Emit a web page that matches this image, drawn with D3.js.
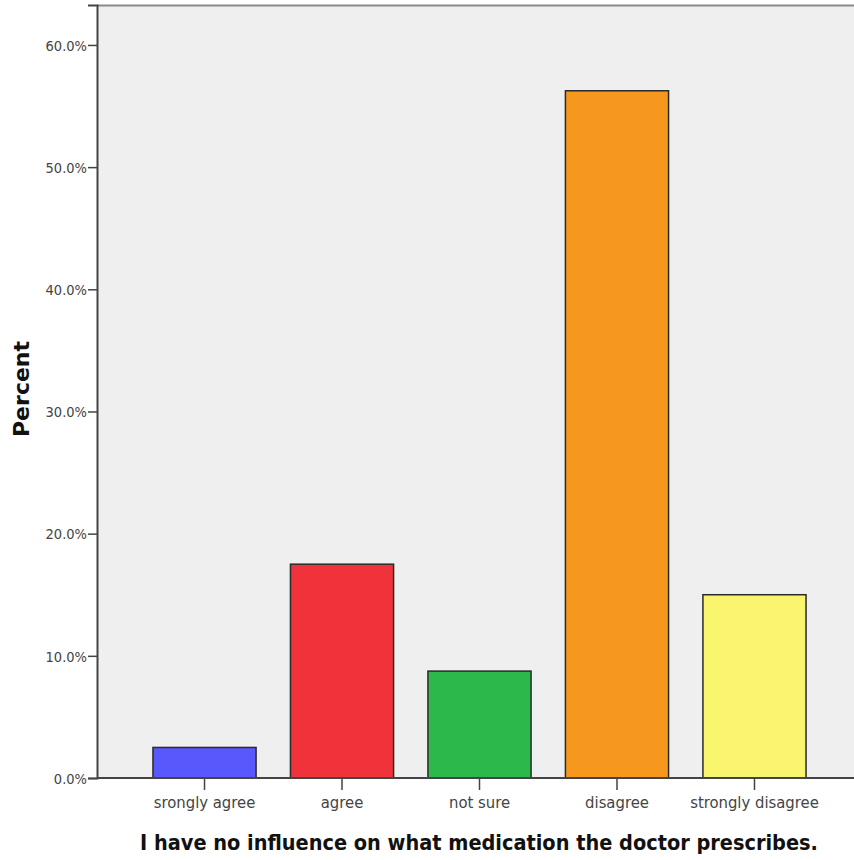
<!DOCTYPE html>
<html><head><meta charset="utf-8">
<script src="https://cdn.jsdelivr.net/npm/d3@7"></script>
<style>body{margin:0;background:#fff;} svg{display:block;}</style>
</head><body>
<svg id="c" width="854" height="860"></svg>
<script>
const categories = ["srongly agree","agree","not sure","disagree","strongly disagree"];
const values = [2.5, 17.5, 8.75, 56.25, 15.0];
const colors = ["#5858fc","#f0333b","#2db84b","#f7981e","#f9f56f"];
const yTicks = [0,10,20,30,40,50,60];
const xTitle = "I have no influence on what medication the doctor prescribes.";
const yTitle = "Percent";

(function(){
const svg = d3.select("#c");
const pLeft = 97, pTop = 5, pBottom = 778, pRight = 862;
const y = d3.scaleLinear().domain([0, 63.27]).range([pBottom, pTop]);
const x = d3.scaleBand().domain(categories).range([pLeft, pRight]).paddingInner(0.25).paddingOuter(0.407);

svg.append("rect").attr("x", pLeft).attr("y", pTop).attr("width", 854-pLeft).attr("height", pBottom-pTop).attr("fill", "#efefef");
svg.append("line").attr("x1", pLeft).attr("x2", 854).attr("y1", pTop+0.5).attr("y2", pTop+0.5).attr("stroke", "#8a8a8a").attr("stroke-width", 2);

svg.selectAll("rect.bar").data(values).enter().append("rect").attr("class","bar")
  .attr("x", (d,i)=>x(categories[i]))
  .attr("y", d=>y(d))
  .attr("width", x.bandwidth())
  .attr("height", d=>pBottom - y(d))
  .attr("fill", (d,i)=>colors[i])
  .attr("stroke", "#2a2a2a").attr("stroke-width", 1.5);

const yAxis = d3.axisLeft(y).tickValues(yTicks).tickSize(9).tickPadding(1).tickFormat(d=>d.toFixed(1)+"%");
const gy = svg.append("g").attr("transform", `translate(${pLeft},0)`).call(yAxis);
gy.select(".domain").attr("stroke","#444").attr("stroke-width",2);
gy.selectAll(".tick line").attr("stroke","#444").attr("stroke-width",1.5);
gy.selectAll(".tick text").attr("fill","#444").attr("dy","0.36em")
  .style("font-family","'DejaVu Sans Condensed','DejaVu Sans',sans-serif").style("font-stretch","condensed").style("font-size","14.5px");

const xAxis = d3.axisBottom(x).tickSize(12).tickPadding(6);
const gx = svg.append("g").attr("transform", `translate(0,${pBottom})`).call(xAxis);
gx.select(".domain").remove();
gx.append("line").attr("x1", pLeft).attr("x2", 854).attr("y1",0).attr("y2",0).attr("stroke","#444").attr("stroke-width",2);
gx.selectAll(".tick line").attr("stroke","#444").attr("stroke-width",1.5);
gx.selectAll(".tick text").attr("fill","#444").style("font-family","'DejaVu Sans Condensed','DejaVu Sans',sans-serif").style("font-stretch","condensed").style("font-size","16.5px");

svg.append("text").attr("x", 479).attr("y", 850).attr("text-anchor","middle")
  .style("font-family","'DejaVu Sans Condensed','DejaVu Sans',sans-serif").style("font-stretch","condensed")
  .style("font-weight","bold").style("font-size","21.5px").attr("fill","#111").text(xTitle);
svg.append("text").attr("transform","translate(29,389) rotate(-90)").attr("text-anchor","middle")
  .style("font-family","'DejaVu Sans',sans-serif")
  .style("font-weight","bold").style("font-size","22px").attr("fill","#111").text(yTitle);
})();
</script>
</body></html>
